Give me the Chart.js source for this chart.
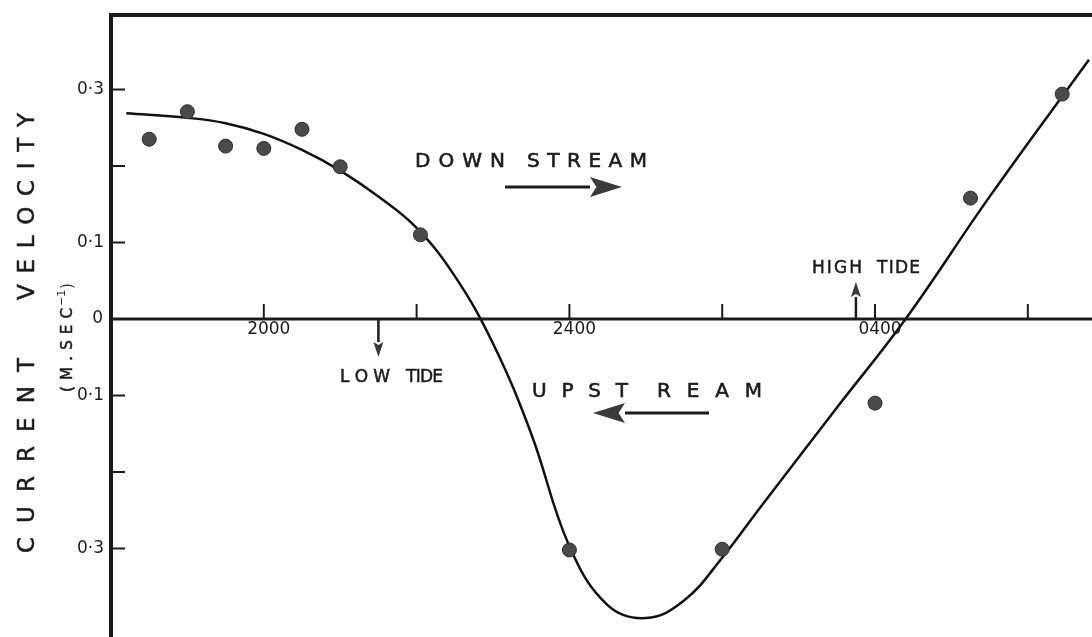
<!DOCTYPE html>
<html>
<head>
<meta charset="utf-8">
<script src="https://cdn.jsdelivr.net/npm/chart.js@4"></script>
<style>
  body { margin: 0; background: #fff; }
  canvas { display: block; }
</style>
</head>
<body>
<canvas id="tide-chart" width="1092" height="637"></canvas>
<script>
// Hours counted from 1800 (so 2 = 2000, 6 = 2400, 10 = 0400)
const obsHours = [0.5, 1.0, 1.5, 2.0, 2.5, 3.0, 4.05, 6.0, 8.0, 10.0, 11.25, 12.45];
const obsVelocity = [0.235, 0.271, 0.226, 0.223, 0.248, 0.199, 0.110, -0.302, -0.301, -0.110, 0.158, 0.294];

// hand-fitted curve through the observations
const fitHours = [0.2, 1.0, 1.5, 2.0, 2.5, 3.0, 3.5, 4.0, 4.5, 5.0, 5.5, 6.0, 6.5, 7.0, 7.5, 8.0, 8.5, 9.5, 10.4, 11.5, 12.8];
const fitVelocity = [0.269, 0.263, 0.256, 0.242, 0.221, 0.194, 0.16, 0.119, 0.056, -0.032, -0.150, -0.297, -0.374, -0.391, -0.368, -0.312, -0.246, -0.116, 0, 0.16, 0.339];

const xTicks = [2, 4, 6, 8, 10, 12];
const xTickLabels = ['2000', '', '2400', '', '0400', ''];
const yTicks = [0.3, 0.2, 0.1, 0, -0.1, -0.2, -0.3];
const yTickLabels = ['0·3', '', '0·1', '0', '0·1', '', '0·3'];

const lowTideHour = 3.5;
const highTideHour = 9.75;

const FONT = '"DejaVu Sans", sans-serif';
const INK = '#1c1c1c';

// draw characters spread evenly between two positions, slightly emboldened
function spaced(ctx, text, x0, x1, y) {
    const chars = [...text];
    const total = chars.reduce((s, c) => s + ctx.measureText(c).width, 0);
    const gap = chars.length > 1 ? (x1 - x0 - total) / (chars.length - 1) : 0;
    let cx = x0;
    for (const c of chars) {
        ctx.fillText(c, cx, y);
        ctx.strokeText(c, cx, y);
        cx += ctx.measureText(c).width + gap;
    }
}

function arrow(ctx, x0, y0, x1, y1, head, half) {
    const ang = Math.atan2(y1 - y0, x1 - x0);
    const bx = x1 - Math.cos(ang) * head;
    const by = y1 - Math.sin(ang) * head;
    ctx.beginPath();
    ctx.moveTo(x0, y0);
    ctx.lineTo(bx, by);
    ctx.stroke();
    ctx.beginPath();
    ctx.moveTo(x1, y1);
    ctx.lineTo(bx - Math.sin(ang) * half, by + Math.cos(ang) * half);
    ctx.lineTo(bx + Math.cos(ang) * head * 0.2, by + Math.sin(ang) * head * 0.2);
    ctx.lineTo(bx + Math.sin(ang) * half, by - Math.cos(ang) * half);
    ctx.closePath();
    ctx.fill();
}

// frame, zero line, inward ticks and all the lettering
const axesPlugin = {
    id: 'axesPlugin',
    beforeDatasetsDraw(chart) {
        const { ctx, chartArea: a, scales: { x, y } } = chart;
        const y0 = y.getPixelForValue(0);
        ctx.save();
        ctx.strokeStyle = INK;
        ctx.lineCap = 'butt';

        // top border and left axis
        ctx.lineWidth = 4;
        ctx.beginPath();
        ctx.moveTo(a.left - 2, a.top);
        ctx.lineTo(a.right, a.top);
        ctx.moveTo(a.left, a.top - 2);
        ctx.lineTo(a.left, a.bottom);
        ctx.stroke();

        // zero line
        ctx.lineWidth = 3;
        ctx.beginPath();
        ctx.moveTo(a.left, y0);
        ctx.lineTo(a.right, y0);
        ctx.stroke();

        // x ticks point upward from the zero line
        ctx.lineWidth = 2;
        ctx.fillStyle = INK;
        ctx.font = '17px ' + FONT;
        ctx.textAlign = 'center';
        ctx.textBaseline = 'top';
        xTicks.forEach((h, i) => {
            const px = x.getPixelForValue(h);
            ctx.beginPath();
            ctx.moveTo(px, y0);
            ctx.lineTo(px, y0 - 15);
            ctx.stroke();
            if (xTickLabels[i]) ctx.fillText(xTickLabels[i], px + 5, y0 + 2);
        });

        // y ticks point inward
        ctx.textAlign = 'right';
        ctx.textBaseline = 'middle';
        yTicks.forEach((v, i) => {
            const py = y.getPixelForValue(v);
            ctx.beginPath();
            ctx.moveTo(a.left, py);
            ctx.lineTo(a.left + 14, py);
            ctx.stroke();
            if (yTickLabels[i]) ctx.fillText(yTickLabels[i], v === 0 ? 103 : 104, py);
        });
        ctx.restore();
    },
    afterDraw(chart) {
        const { ctx, scales: { x, y } } = chart;
        const y0 = y.getPixelForValue(0);
        ctx.save();
        ctx.fillStyle = INK;
        ctx.strokeStyle = INK;
        ctx.textAlign = 'left';
        ctx.textBaseline = 'alphabetic';

        // flow direction labels
        ctx.lineWidth = 0.6;
        ctx.font = '20px ' + FONT;
        spaced(ctx, 'DOWN', 415, 505, 167);
        spaced(ctx, 'STREAM', 527, 647, 167);
        spaced(ctx, 'UPST', 532, 628, 397);
        spaced(ctx, 'REAM', 657, 762, 397);

        ctx.fillStyle = '#3a3a3a';
        ctx.lineWidth = 3;
        arrow(ctx, 505, 187, 622, 187, 32, 10);
        arrow(ctx, 709, 413, 593, 413, 32, 10);
        ctx.fillStyle = INK;

        // tide markers
        ctx.lineWidth = 0.5;
        ctx.font = '17px ' + FONT;
        spaced(ctx, 'LOW', 340, 390, 382);
        spaced(ctx, 'TIDE', 406, 443, 382);
        spaced(ctx, 'HIGH', 812, 862, 273);
        spaced(ctx, 'TIDE', 877, 920, 273);

        ctx.fillStyle = '#3a3a3a';
        ctx.lineWidth = 2.5;
        const lx = x.getPixelForValue(lowTideHour);
        arrow(ctx, lx, y0, lx, y0 + 38, 15, 5);
        const hx = x.getPixelForValue(highTideHour);
        arrow(ctx, hx, y0, hx, y0 - 37, 15, 5);
        ctx.fillStyle = INK;

        // rotated axis title
        ctx.lineWidth = 0.5;
        ctx.save();
        ctx.translate(34, 0);
        ctx.rotate(-Math.PI / 2);
        ctx.font = '23px ' + FONT;
        spaced(ctx, 'CURRENT', -553, -358, 0);
        spaced(ctx, 'VELOCITY', -300, -113, 0);
        ctx.restore();

        ctx.save();
        ctx.translate(72, 0);
        ctx.rotate(-Math.PI / 2);
        ctx.font = '15px ' + FONT;
        spaced(ctx, '(M.SEC', -392, -308, 0);
        ctx.font = '11px ' + FONT;
        ctx.fillText('−1', -306, -7);
        ctx.font = '15px ' + FONT;
        ctx.fillText(')', -289, 0);
        ctx.restore();

        ctx.restore();
    }
};

const ctx = document.getElementById('tide-chart').getContext('2d');
const chart = new Chart(ctx, {
    type: 'scatter',
    data: {
        datasets: [{
            label: 'Fitted curve',
            data: fitHours.map((h, i) => ({ x: h, y: fitVelocity[i] })),
            showLine: true,
            borderColor: '#111',
            borderWidth: 2.5,
            pointRadius: 0,
            tension: 0.4,
            order: 2
        }, {
            label: 'Observed',
            data: obsHours.map((h, i) => ({ x: h, y: obsVelocity[i] })),
            backgroundColor: '#4a4a4a',
            borderColor: '#2e2e2e',
            borderWidth: 1,
            pointRadius: 7,
            order: 1
        }]
    },
    options: {
        responsive: false,
        animation: false,
        layout: { autoPadding: false, padding: { left: 111, top: 15, right: 0, bottom: 0 } },
        plugins: {
            legend: { display: false },
            tooltip: { enabled: false }
        },
        scales: {
            x: { type: 'linear', display: false, min: 0, max: 12.84 },
            y: { type: 'linear', display: false, min: -0.4157, max: 0.3974 }
        }
    },
    plugins: [axesPlugin]
});
</script>
</body>
</html>
